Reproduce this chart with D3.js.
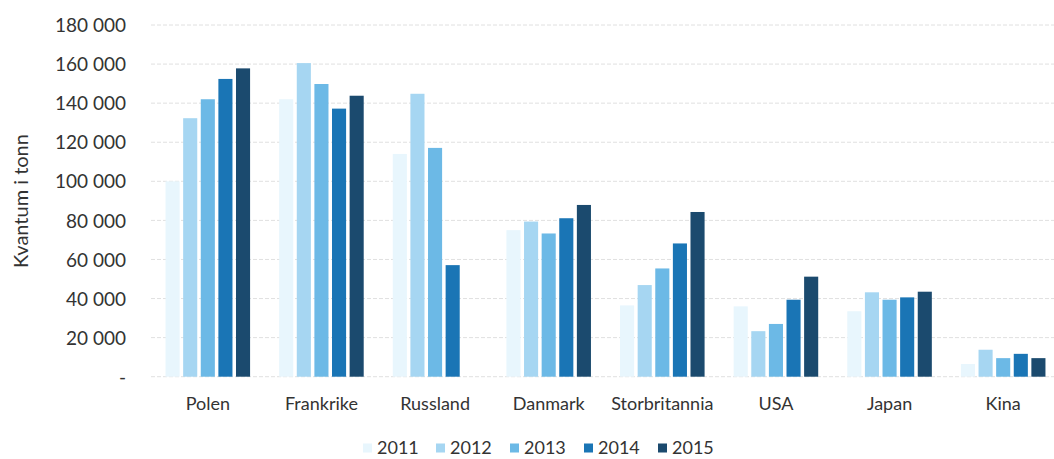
<!DOCTYPE html>
<html>
<head>
<meta charset="utf-8">
<script src="https://cdn.jsdelivr.net/npm/d3@7/dist/d3.min.js"></script>
<style>
  html, body { margin: 0; padding: 0; background: #fff; }
  svg { display: block; }
  svg text { font-family: Lato, "Open Sans", sans-serif; }
</style>
</head>
<body>
<svg id="chart" width="1054" height="459"></svg>
<script>
const categories = ["Polen", "Frankrike", "Russland", "Danmark", "Storbritannia", "USA", "Japan", "Kina"];
const years = ["2011", "2012", "2013", "2014", "2015"];
const v2011 = [100000, 142000, 114000, 75000, 36500, 36000, 33500, 6500];
const v2012 = [132300, 160500, 144800, 79400, 46900, 23300, 43200, 13800];
const v2013 = [142000, 149800, 117100, 73300, 55400, 27000, 39400, 9500];
const v2014 = [152400, 137200, 57100, 81100, 68200, 39400, 40600, 11700];
const v2015 = [157800, 143800, 0, 87900, 84300, 51200, 43500, 9500];
const yTicks = [0, 20000, 40000, 60000, 80000, 100000, 120000, 140000, 160000, 180000];
const colors = ["#e8f6fd", "#a6d6f2", "#6cb9e6", "#1a75b5", "#1b4a6e"];

const series = [v2011, v2012, v2013, v2014, v2015];
const svg = d3.select("#chart");
const FONT = "Lato, 'Open Sans', sans-serif";

const y = d3.scaleLinear().domain([0, 180000]).range([376.7, 25]);
const x0 = d3.scaleBand().domain(categories).range([151, 1060]).paddingInner(0.225).paddingOuter(0.1125);
const x1 = d3.scaleBand().domain(years).range([0, x0.bandwidth()]).paddingInner(0.2).paddingOuter(0.1);
const color = d3.scaleOrdinal().domain(years).range(colors);

const fmt = v => v === 0 ? "-" : d3.format(",")(v).replace(/,/g, " ");

// gridlines
svg.append("g")
  .selectAll("line")
  .data(yTicks)
  .join("line")
  .attr("x1", 151).attr("x2", 1054)
  .attr("y1", d => y(d)).attr("y2", d => y(d))
  .attr("stroke", "#e0e0e0")
  .attr("stroke-width", 1)
  .attr("stroke-dasharray", "4,2");

// y axis labels
const yAxis = d3.axisLeft(y).tickValues(yTicks).tickFormat(fmt).tickSize(0).tickPadding(0);
const gy = svg.append("g").attr("transform", "translate(126,0)").call(yAxis)
  .attr("font-family", FONT);
gy.select(".domain").remove();
gy.selectAll("text").attr("font-size", 19).attr("fill", "#333").attr("dy", "0.35em");

// y title
svg.append("text")
  .attr("transform", "translate(28,201) rotate(-90)")
  .attr("text-anchor", "middle")
  .attr("font-family", FONT)
  .attr("font-size", 20)
  .attr("fill", "#333")
  .text("Kvantum i tonn");

// bars
const rows = categories.map((c, i) => ({ c, vals: years.map((yr, j) => ({ yr, v: series[j][i] })) }));
svg.append("g")
  .selectAll("g")
  .data(rows)
  .join("g")
  .attr("transform", d => `translate(${x0(d.c)},0)`)
  .selectAll("rect")
  .data(d => d.vals)
  .join("rect")
  .attr("x", d => x1(d.yr))
  .attr("width", x1.bandwidth())
  .attr("y", d => y(d.v))
  .attr("height", d => y(0) - y(d.v))
  .attr("fill", d => color(d.yr));

// x axis labels
const xAxis = d3.axisBottom(x0).tickSize(0).tickPadding(0);
const gx = svg.append("g").attr("transform", "translate(0,396)").call(xAxis)
  .attr("font-family", FONT);
gx.select(".domain").remove();
gx.selectAll("text").attr("font-size", 18).attr("fill", "#333").attr("dy", "0.8em");

// legend
const legendX = [363, 436, 510, 584, 658];
const lg = svg.append("g")
  .selectAll("g")
  .data(years)
  .join("g")
  .attr("transform", (d, i) => `translate(${legendX[i]},448)`);
lg.append("rect").attr("x", 0).attr("y", -4.5).attr("width", 9).attr("height", 9).attr("fill", d => color(d));
lg.append("text").attr("x", 14).attr("y", 0).attr("dy", "0.35em")
  .attr("font-family", FONT).attr("font-size", 18).attr("fill", "#333").text(d => d);
</script>
</body>
</html>
